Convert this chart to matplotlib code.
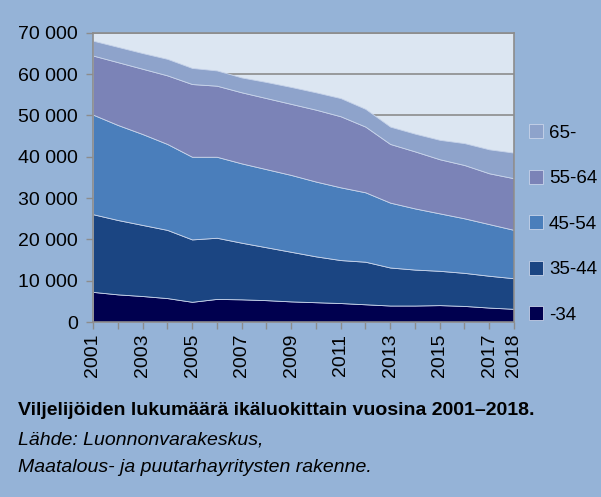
import matplotlib.pyplot as plt
import numpy as np

years = list(range(2001, 2019))
labels = ["-34", "35-44", "45-54", "55-64", "65-"]

# farmers per age group
age_34 = [7300, 6700, 6300, 5800, 4900, 5600, 5500, 5300, 5000, 4800, 4600, 4300, 4000, 4000, 4100, 3900, 3500, 3200]
age_35_44 = [18800, 18000, 17200, 16500, 15100, 14800, 13700, 12800, 12000, 11100, 10400, 10300, 9200, 8700, 8300, 8000, 7700, 7400]
age_45_54 = [24100, 23000, 22000, 20800, 20000, 19600, 19200, 18900, 18600, 18100, 17600, 16800, 15700, 14800, 13900, 13200, 12500, 11700]
age_55_64 = [14300, 15200, 15800, 16600, 17600, 17200, 17200, 17200, 17200, 17400, 17200, 15900, 14200, 13800, 13100, 12900, 12300, 12500]
age_65 = [3600, 3700, 3800, 4000, 3900, 3700, 3600, 3900, 4100, 4200, 4400, 4300, 4200, 4300, 4700, 5300, 5800, 6200]

colors = ["#00004f", "#1b4582", "#4a7ebb", "#7b83b7", "#8ea3cb"]
fig_bg = "#95b3d7"
plt.rcParams['font.family'] = ["Liberation Sans", "DejaVu Sans"]

fig = plt.figure(figsize=(6.01, 4.97), dpi=100, facecolor=fig_bg)
ax = fig.add_axes([0.1547, 0.352, 0.7005, 0.582])
ax.set_facecolor("#dce6f2")

ax.stackplot(years, age_34, age_35_44, age_45_54, age_55_64, age_65,
             colors=colors, labels=labels, edgecolor="#c8d4ea", linewidth=0.6)

ax.set_xlim(2001, 2018)
ax.set_ylim(0, 70000)
yt = np.arange(0, 70001, 10000)
ax.set_yticks(yt)
ax.set_yticklabels(["0" if v == 0 else "{:,}".format(v).replace(",", " ") for v in yt], fontsize=14)
ax.yaxis.grid(True, color="#8c8c8c", linewidth=1.2)
ax.set_axisbelow(True)

ax.set_xticks(years)
ax.set_xticklabels([str(y) if (y % 2 == 1 or y == 2018) else "" for y in years],
                   rotation=90, fontsize=14)
ax.tick_params(axis="both", colors="#8c8c8c", labelcolor="black", length=5, width=1)
ax.tick_params(axis="y", pad=6)
for s in ax.spines.values():
    s.set_color("#8c8c8c")
    s.set_linewidth(1.2)

h, l = ax.get_legend_handles_labels()
fig.legend(h[::-1], l[::-1], loc="upper left", bbox_to_anchor=(0.868, 0.765),
           frameon=False, fontsize=13.5, labelspacing=1.5, handlelength=0.75,
           handleheight=0.75, handletextpad=0.3, borderaxespad=0)

fig.text(0.03, 0.175, "Viljelijöiden lukumäärä ikäluokittain vuosina 2001–2018.",
         fontsize=14, fontweight="bold", va="center")
fig.text(0.03, 0.115, "Lähde: Luonnonvarakeskus,", fontsize=14, style="italic", va="center")
fig.text(0.03, 0.06, "Maatalous- ja puutarhayritysten rakenne.", fontsize=14, style="italic", va="center")

fig.savefig("out.png", dpi=100, facecolor=fig_bg)
